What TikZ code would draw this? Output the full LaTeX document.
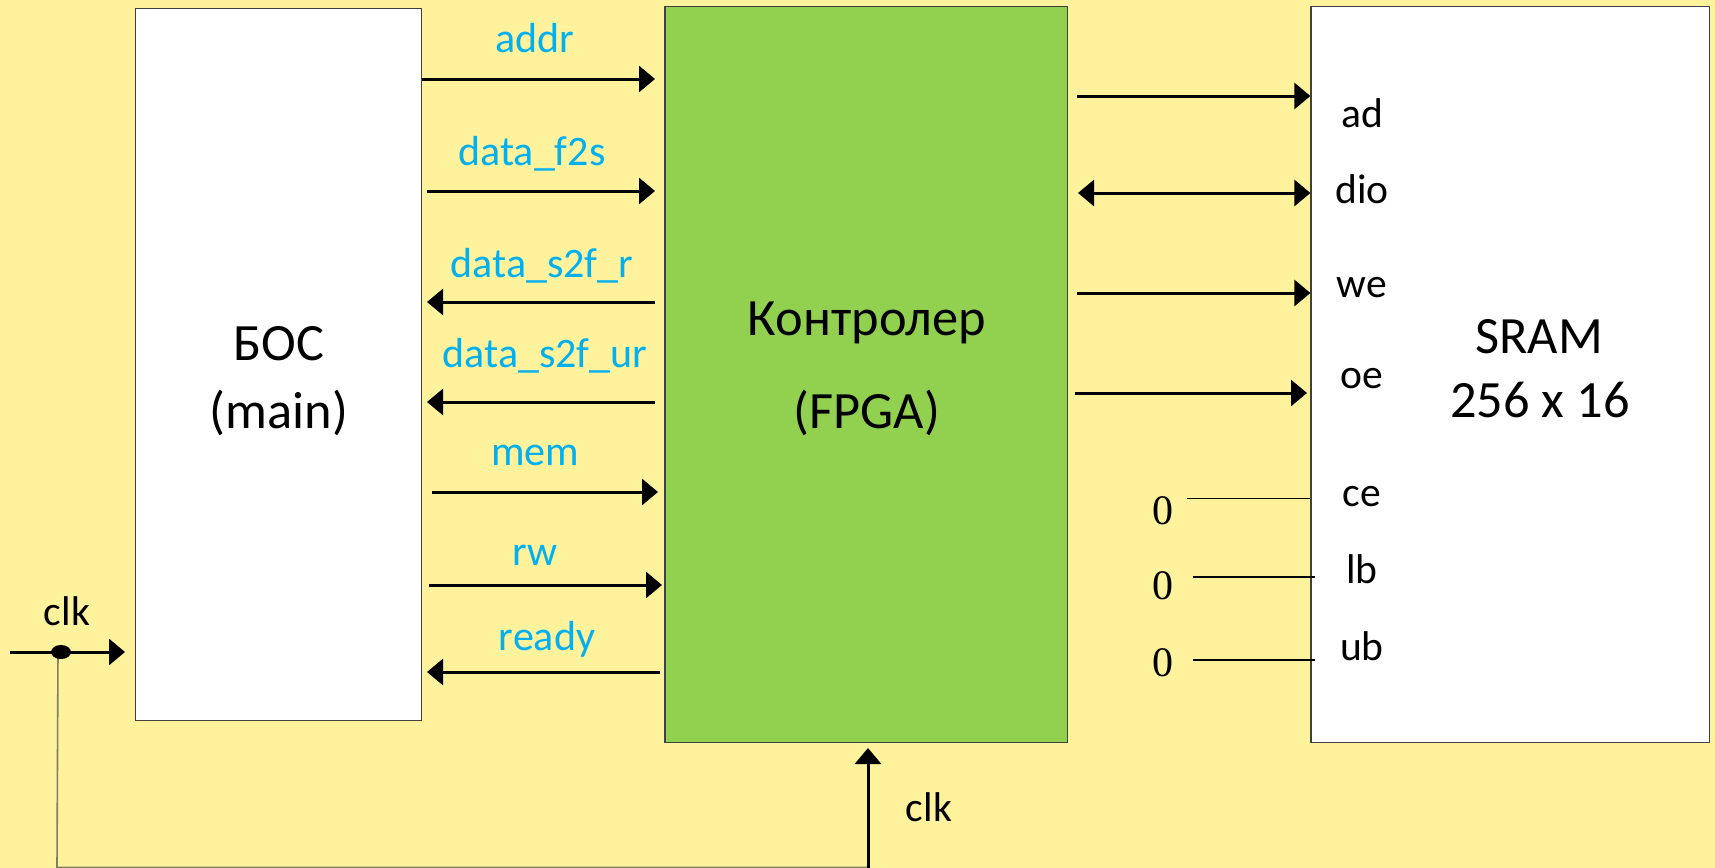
\documentclass[tikz,border=0pt]{standalone}
\usepackage{fontspec}
\setmainfont{Carlito}
\newfontfamily\serifz{Liberation Serif}
\usetikzlibrary{arrows.meta}
\definecolor{bg}{HTML}{FFF29C}
\definecolor{fpgagreen}{HTML}{92D050}
\definecolor{sigblue}{HTML}{00B0F0}
\definecolor{wiregray}{HTML}{7F7F66}
\begin{document}
\begin{tikzpicture}[x=0.5pt,y=-0.5pt,
  box/.style={draw=black!75, line width=0.6pt, inner sep=0pt},
  tipA/.tip={Triangle[length=8pt,width=13pt]},
  sig/.style={line width=1.5pt, -tipA},
  sigback/.style={line width=1.5pt, tipA-},
  sigboth/.style={line width=1.5pt, tipA-tipA},
  lbl/.style={text=sigblue, font=\fontsize{21}{24}\selectfont, anchor=base, inner sep=0pt},
  pin/.style={font=\fontsize{20.8}{24}\selectfont, anchor=base, inner sep=0pt},
  big/.style={font=\fontsize{26.2}{30}\selectfont, anchor=base, inner sep=0pt},
  zero/.style={font=\serifz\fontsize{21}{24}\selectfont, anchor=base, inner sep=0pt},
  tie/.style={line width=0.6pt},
  wire/.style={draw=wiregray, line width=0.8pt}]
\useasboundingbox (0,0) rectangle (1715,868);
\fill[bg] (0,0) rectangle (1715,868);
% boxes
\node[box, fill=white, minimum width=143pt, minimum height=356pt] (boc) at (278.5,364.5) {};
\node[box, fill=fpgagreen, minimum width=201.25pt, minimum height=368pt] (fpga) at (866.25,374.5) {};
\node[box, fill=white, minimum width=199.25pt, minimum height=368pt] (sram) at (1510.25,374.5) {};
% box texts
\node[big] (t1) at (279,360) {БОС};
\node[big] (t2) at (279,428) {(main)};
\node[big] (t3) at (867,335) {Контролер};
\node[big] (t4) at (867,428) {(FPGA)};
\node[big] (t5) at (1539,353) {SRAM};
\node[big] (t6) at (1540,417) {256 x 16};
% left-side signals
\coordinate (a1) at (655,79);
\draw[sig] (boc.east |- a1) -- (a1);
\node[lbl] (laddr) at (535,52) {addr};
\coordinate (b0) at (427,191); \coordinate (b1) at (655,191);
\draw[sig] (b0) -- (b1);
\node[lbl] (lf2s) at (532,165) {data\_f2s};
\coordinate (c0) at (427,302); \coordinate (c1) at (655,302);
\draw[sigback] (c0) -- (c1);
\node[lbl] (ls2fr) at (542,277) {data\_s2f\_r};
\coordinate (d0) at (427,402); \coordinate (d1) at (655,402);
\draw[sigback] (d0) -- (d1);
\node[lbl] (ls2fur) at (545,367) {data\_s2f\_ur};
\coordinate (e0) at (432,492); \coordinate (e1) at (658,492);
\draw[sig] (e0) -- (e1);
\node[lbl] (lmem) at (535,465) {mem};
\coordinate (f0) at (429,585); \coordinate (f1) at (662,585);
\draw[sig] (f0) -- (f1);
\node[lbl] (lrw) at (535,565) {rw};
\coordinate (g0) at (427,672); \coordinate (g1) at (660,672);
\draw[sigback] (g0) -- (g1);
\node[lbl] (lready) at (547,650) {ready};
% right-side signals
\coordinate (h0) at (1077,96);
\draw[sig] (h0) -- (sram.west |- h0);
\node[pin] (pad) at (1362,127) {ad};
\coordinate (i0) at (1078,193);
\draw[sigboth] (i0) -- (sram.west |- i0);
\node[pin] (pdio) at (1362,203) {dio};
\coordinate (j0) at (1077,293);
\draw[sig] (j0) -- (sram.west |- j0);
\node[pin] (pwe) at (1362,297) {we};
\coordinate (k0) at (1075,393); \coordinate (k1) at (1307,393);
\draw[sig] (k0) -- (k1);
\node[pin] (poe) at (1362,388) {oe};
% tied pins
\coordinate (l0) at (1187,498.5);
\draw[tie] (l0) -- (sram.west |- l0);
\node[zero] (z1) at (1163,524) {0};
\node[pin] (pce) at (1362,506) {ce};
\coordinate (m0) at (1193,577); \coordinate (m1) at (1315,577);
\draw[tie] (m0) -- (m1);
\node[zero] (z2) at (1163,599) {0};
\node[pin] (plb) at (1362,583) {lb};
\coordinate (n0) at (1193,660); \coordinate (n1) at (1315,660);
\draw[tie] (n0) -- (n1);
\node[zero] (z3) at (1163,676) {0};
\node[pin] (pub) at (1362,660) {ub};
% clocks
\coordinate (clkin) at (10,652);
\coordinate (clkbc) at (125,652);
\coordinate (dot) at (58,652);
\coordinate (cornerA) at (57,867.5);
\coordinate (cornerB) at (868,867.5);
\coordinate (clkf) at (868,748);
\draw[wire] (dot) -- (cornerA) -- (cornerB);
\draw[sig] (clkin) -- (clkbc);
\fill (61,652) ellipse [x radius=5pt, y radius=3.5pt];
\draw[sig] (868,868) -- (clkf);
\node[pin] (lclk1) at (67,625) {clk};
\node[pin] (lclk2) at (929,821) {clk};
\end{tikzpicture}
\end{document}
